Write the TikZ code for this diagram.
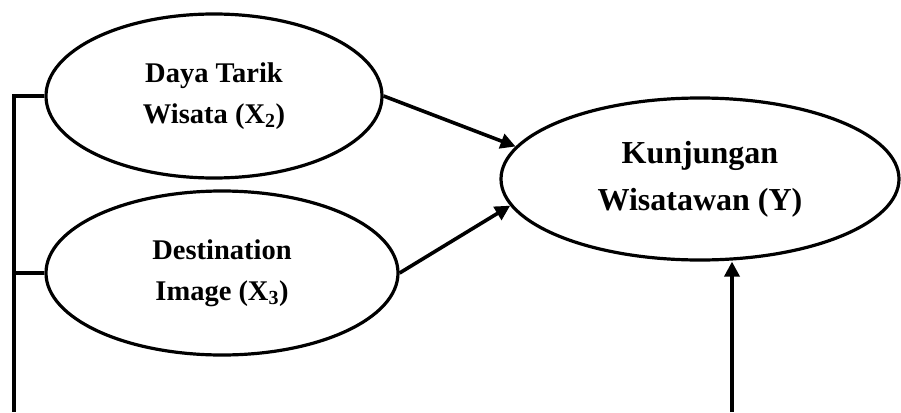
\documentclass[tikz,border=0pt]{standalone}
\usepackage{fontspec}
\setmainfont{Liberation Serif}
\usetikzlibrary{arrows.meta,shapes.geometric}
\tikzstyle{var}=[ellipse,draw,line width=3.2pt,align=center,inner sep=0pt,
  minimum height=164pt,font=\bfseries\fontsize{28.5}{41}\selectfont]
\tikzstyle{dep}=[var,minimum width=398pt,minimum height=162pt,
  font=\bfseries\fontsize{32}{47}\selectfont]
\tikzstyle{edge} = [draw,line width=3.6pt,-]
\tikzstyle{arr} = [draw,line width=3.6pt,-{Triangle[length=15pt,width=15pt]}]

\begin{document}
\begin{tikzpicture}[x=1pt,y=-1pt]
    \useasboundingbox (0,0) rectangle (901,412);
    \foreach \pos/\name/\wid/\txt in {{(214,96)/x2/336/{Daya Tarik\\Wisata (X\textsubscript{2})}},
    {(222,273)/x3/352/{Destination\\Image (X\textsubscript{3})}}}
        \node[var,minimum width=\wid pt] (\name) at \pos {\txt};
    \node[dep] (y) at (700,179) {Kunjungan\\Wisatawan (Y)};
    \coordinate (lb) at (14,412);
    \coordinate (yb) at (732,412);
    % arrows into Y
    \path[arr] (x2.east) -- (y.170);
    \path[arr] (x3.east) -- (y.188);
    \path[arr] (yb) -- (yb |- y.south);
    % left line
    \path[edge] (x2.west) -| (lb);
    \path[edge] (x3.west) -- (x3.west -| lb);
\end{tikzpicture}
\end{document}
